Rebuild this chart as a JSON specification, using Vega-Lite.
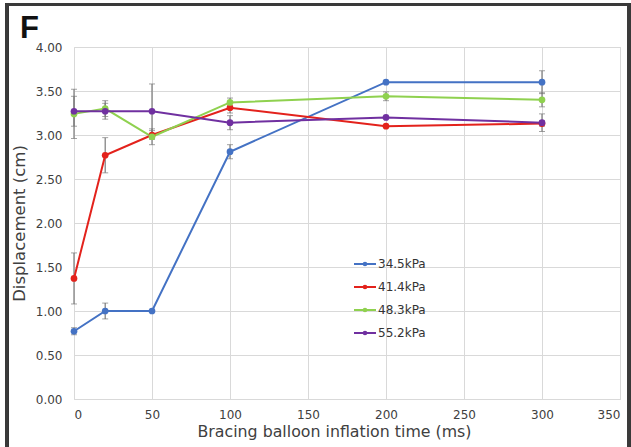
{
  "$schema": "https://vega.github.io/schema/vega-lite/v6.json",
  "width": 546,
  "height": 352,
  "autosize": {"type": "none"},
  "padding": {"left": 74, "top": 47, "right": 11, "bottom": 48},
  "background": "white",
  "title": {
    "text": "F",
    "anchor": "start",
    "frame": "group",
    "fontSize": 31,
    "fontWeight": "bold",
    "font": "Liberation Sans",
    "color": "#111111",
    "baseline": "alphabetic",
    "dx": -54,
    "dy": 65,
    "offset": 0
  },
  "data": {
    "values": [
      {"series": "34.5kPa", "time": 0, "value": 0.77, "err": 0.04},
      {"series": "34.5kPa", "time": 20, "value": 1.00, "err": 0.09},
      {"series": "34.5kPa", "time": 50, "value": 1.00, "err": 0},
      {"series": "34.5kPa", "time": 100, "value": 2.81, "err": 0.08},
      {"series": "34.5kPa", "time": 200, "value": 3.60, "err": 0},
      {"series": "34.5kPa", "time": 300, "value": 3.60, "err": 0.13},
      {"series": "41.4kPa", "time": 0, "value": 1.37, "err": 0.29},
      {"series": "41.4kPa", "time": 20, "value": 2.77, "err": 0.2},
      {"series": "41.4kPa", "time": 50, "value": 3.00, "err": 0.05},
      {"series": "41.4kPa", "time": 100, "value": 3.31, "err": 0.06},
      {"series": "41.4kPa", "time": 200, "value": 3.10, "err": 0},
      {"series": "41.4kPa", "time": 300, "value": 3.13, "err": 0.03},
      {"series": "48.3kPa", "time": 0, "value": 3.24, "err": 0.28},
      {"series": "48.3kPa", "time": 20, "value": 3.30, "err": 0.09},
      {"series": "48.3kPa", "time": 50, "value": 2.98, "err": 0.09},
      {"series": "48.3kPa", "time": 100, "value": 3.37, "err": 0.05},
      {"series": "48.3kPa", "time": 200, "value": 3.44, "err": 0.05},
      {"series": "48.3kPa", "time": 300, "value": 3.40, "err": 0.08},
      {"series": "55.2kPa", "time": 0, "value": 3.27, "err": 0.17},
      {"series": "55.2kPa", "time": 20, "value": 3.27, "err": 0.09},
      {"series": "55.2kPa", "time": 50, "value": 3.27, "err": 0.31},
      {"series": "55.2kPa", "time": 100, "value": 3.14, "err": 0.08},
      {"series": "55.2kPa", "time": 200, "value": 3.20, "err": 0},
      {"series": "55.2kPa", "time": 300, "value": 3.14, "err": 0.1}
    ]
  },
  "encoding": {
    "x": {
      "field": "time",
      "type": "quantitative",
      "scale": {"domain": [0, 350], "nice": false, "zero": false},
      "axis": {
        "title": "Bracing balloon inflation time (ms)",
        "values": [0, 50, 100, 150, 200, 250, 300, 350],
        "labelPadding": 10,
        "titlePadding": 4,
        "titleX": 260,
        "titleFontSize": 15.8
      }
    }
  },
  "layer": [
    {
      "transform": [{"filter": "datum.err > 0"}],
      "mark": {
        "type": "errorbar",
        "color": "#7a7a7a",
        "ticks": {"size": 6, "strokeWidth": 1.2},
        "rule": {"strokeWidth": 1.2}
      },
      "encoding": {
        "y": {
          "field": "value",
          "type": "quantitative",
          "title": "Displacement (cm)",
          "scale": {"domain": [0, 4], "nice": false}
        },
        "yError": {"field": "err"}
      }
    },
    {
      "mark": {
        "type": "line",
        "strokeWidth": 2,
        "point": {"filled": true, "size": 45, "opacity": 1}
      },
      "encoding": {
        "y": {
          "field": "value",
          "type": "quantitative",
          "title": "Displacement (cm)",
          "scale": {"domain": [0, 4], "nice": false},
          "axis": {
            "title": "Displacement (cm)",
            "values": [0, 0.5, 1, 1.5, 2, 2.5, 3, 3.5, 4],
            "format": ".2f",
            "labelPadding": 12,
            "titlePadding": 8,
            "titleFontSize": 16.5
          }
        },
        "color": {
          "field": "series",
          "type": "nominal",
          "scale": {
            "domain": ["34.5kPa", "41.4kPa", "48.3kPa", "55.2kPa"],
            "range": ["#4472c4", "#e3221c", "#8fd14f", "#7030a0"]
          },
          "legend": {
            "title": null,
            "orient": "none",
            "legendX": 279,
            "legendY": 205,
            "symbolType": "M-1,0L1,0M-0.12,0a0.12,0.12 0 1,0 0.24,0a0.12,0.12 0 1,0 -0.24,0",
            "symbolSize": 484,
            "symbolStrokeWidth": 2,
            "labelFontSize": 12,
            "labelFont": "DejaVu Sans",
            "labelColor": "#333333",
            "labelOffset": 1,
            "rowPadding": 5
          }
        },
        "order": {"field": "time", "type": "quantitative"}
      }
    },
    {
      "mark": {
        "type": "rect",
        "fill": null,
        "fillOpacity": 0,
        "stroke": "#3a3a3a",
        "strokeWidth": 2.5,
        "clip": false
      },
      "encoding": {
        "x": {"datum": -43},
        "x2": {"datum": 355.8},
        "y": {"datum": 4.48},
        "y2": {"datum": -0.7}
      }
    }
  ],
  "config": {
    "font": "DejaVu Sans",
    "view": {"stroke": "#d9d9d9", "strokeWidth": 1},
    "axis": {
      "domain": false,
      "ticks": false,
      "grid": true,
      "gridColor": "#d9d9d9",
      "gridWidth": 1,
      "labelFont": "DejaVu Sans",
      "labelFontSize": 12,
      "labelColor": "#404040",
      "titleFont": "DejaVu Sans",
      "titleFontSize": 15.5,
      "titleFontWeight": "normal",
      "titleColor": "#404040"
    }
  }
}
